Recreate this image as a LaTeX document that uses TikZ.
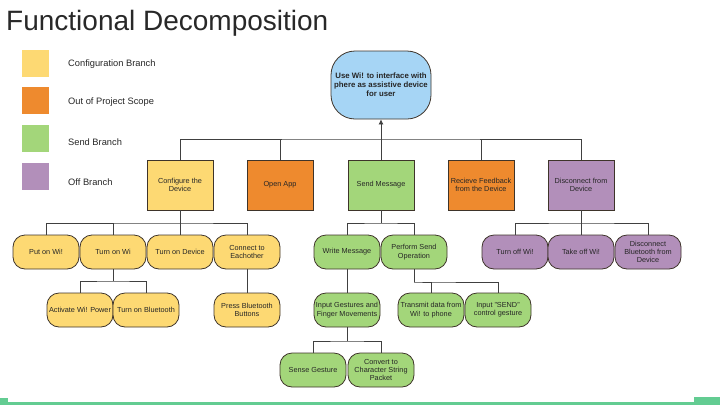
\documentclass[tikz,border=0pt]{standalone}
\usepackage{fontspec}
\setmainfont{Liberation Sans}
\usetikzlibrary{arrows.meta}
\definecolor{cfgcol}{RGB}{253,217,115}
\definecolor{outcol}{RGB}{238,138,46}
\definecolor{sendcol}{RGB}{163,214,122}
\definecolor{offcol}{RGB}{178,143,186}
\definecolor{rootcol}{RGB}{166,213,245}
\definecolor{edgecol}{RGB}{62,52,42}
\definecolor{barcol}{RGB}{99,204,146}
\definecolor{titlecol}{RGB}{40,40,40}
\begin{document}
\begin{tikzpicture}[x=1pt,y=-1pt,
  every node/.style={font=\fontsize{7.3}{8.3}\selectfont,text=black!85,align=center,inner sep=1pt},
  fnbox/.style={draw=edgecol,line width=0.8pt,minimum width=66pt,minimum height=50pt},
  subbox/.style={draw=edgecol,line width=0.8pt,rounded corners=12pt,minimum width=66pt,minimum height=34pt},
  legbox/.style={minimum size=27pt},
  legtext/.style={anchor=west,font=\fontsize{9.3}{11}\selectfont},
  link/.style={draw=black!75,line width=0.8pt}]
  \useasboundingbox (0,0) rectangle (720,405);
  \node[anchor=west,font=\fontsize{28}{32}\selectfont,text=titlecol] (title) at (5,23) {Functional Decomposition};

  \node[legbox,fill=cfgcol] (legcfg) at (35,63.5) {};
  \node[legbox,fill=outcol] (legout) at (35,100.5) {};
  \node[legbox,fill=sendcol] (legsend) at (35,138.5) {};
  \node[legbox,fill=offcol] (legoff) at (35,176.5) {};
  \node[legtext] (txtcfg) at (67,64) {Configuration Branch};
  \node[legtext] (txtout) at (67,102) {Out of Project Scope};
  \node[legtext] (txtsend) at (67,142) {Send Branch};
  \node[legtext] (txtoff) at (67,182) {Off Branch};

  \node[draw=edgecol,line width=0.8pt,fill=rootcol,rounded corners=24pt,minimum width=100pt,minimum height=68pt,font=\bfseries\fontsize{7.8}{9}\selectfont] (root) at (381,85) {Use Wi! to interface with\\phere as assistive device\\for user};

  \node[fnbox,fill=cfgcol] (cfg) at (180,185) {Configure the\\Device};
  \node[fnbox,fill=outcol] (open) at (280,185) {Open App};
  \node[fnbox,fill=sendcol] (send) at (381,185) {Send Message};
  \node[fnbox,fill=outcol] (feed) at (481,185) {Recieve Feedback\\from the Device};
  \node[fnbox,fill=offcol] (disc) at (581,185) {Disconnect from\\Device};

  \node[subbox,fill=cfgcol] (puton) at (46,252) {Put on Wi!};
  \node[subbox,fill=cfgcol] (turnon) at (113,252) {Turn on Wi};
  \node[subbox,fill=cfgcol] (turndev) at (180,252) {Turn on Device};
  \node[subbox,fill=cfgcol] (connect) at (247,252) {Connect to\\Eachother};
  \node[subbox,fill=sendcol] (write) at (347,252) {Write Message};
  \node[subbox,fill=sendcol] (perform) at (414,252) {Perform Send\\Operation};
  \node[subbox,fill=offcol] (turnoff) at (515,252) {Turn off Wi!};
  \node[subbox,fill=offcol] (takeoff) at (581,252) {Take off Wi!};
  \node[subbox,fill=offcol] (discbt) at (648,252) {Disconnect\\Bluetooth from\\Device};

  \node[subbox,fill=cfgcol] (activate) at (80,310) {Activate Wi! Power};
  \node[subbox,fill=cfgcol] (bluetooth) at (146,310) {Turn on Bluetooth};
  \node[subbox,fill=cfgcol] (press) at (247,310) {Press Bluetooth\\Buttons};
  \node[subbox,fill=sendcol] (gesture) at (347,310) {Input Gestures and\\Finger Movements};
  \node[subbox,fill=sendcol] (transmit) at (431,310) {Transmit data from\\Wi! to phone};
  \node[subbox,fill=sendcol] (inputsend) at (498,310) {Input "SEND"\\control gesture};

  \node[subbox,fill=sendcol] (sense) at (313,370) {Sense Gesture};
  \node[subbox,fill=sendcol] (convert) at (381,370) {Convert to\\Character String\\Packet};

  \coordinate (topbus) at (381,139);
  \coordinate (cbus) at (180,223);
  \coordinate (wbus) at (113,281);
  \coordinate (sbus) at (381,223);
  \coordinate (pbus) at (414,282);
  \coordinate (gbus) at (347,341);
  \coordinate (dbus) at (581,223);

  \draw[link,-{Latex[length=5pt,width=5pt]}] (send.north) -- (root.south);
  \draw[link] (cfg.north) |- (topbus) -| (disc.north);
  \draw[link] (open.north) -- (open.north |- topbus);
  \draw[link] (feed.north) -- (feed.north |- topbus);

  \draw[link] (cfg.south) -- (turndev.north);
  \draw[link] (puton.north) |- (cbus) -| (connect.north);
  \draw[link] (turnon.north) -- (turnon.north |- cbus);
  \draw[link] (turnon.south) -- (wbus);
  \draw[link] (activate.north) |- (wbus) -| (bluetooth.north);
  \draw[link] (connect.south) -- (press.north);

  \draw[link] (send.south) -- (sbus);
  \draw[link] (write.north) |- (sbus) -| (perform.north);
  \draw[link] (write.south) -- (gesture.north);
  \draw[link] (perform.south) -- (pbus);
  \draw[link] (transmit.north) |- (pbus) -| (inputsend.north);
  \draw[link] (gesture.south) -- (gbus);
  \draw[link] (sense.north) |- (gbus) -| (convert.north);

  \draw[link] (disc.south) -- (takeoff.north);
  \draw[link] (turnoff.north) |- (dbus) -| (discbt.north);

  \fill[barcol] (8,402) rectangle (720,405);
  \fill[barcol] (0,398) rectangle (8,405);
  \fill[barcol] (694,397) rectangle (720,405);
\end{tikzpicture}
\end{document}
